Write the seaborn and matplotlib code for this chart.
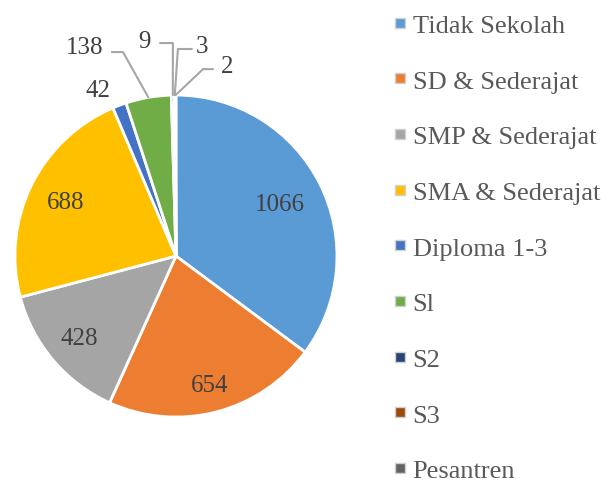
import matplotlib
matplotlib.use("Agg")
import matplotlib.pyplot as plt
from matplotlib import font_manager as fm
from matplotlib.lines import Line2D
import numpy as np
import seaborn as sns

categories = ["Tidak Sekolah", "SD & Sederajat", "SMP & Sederajat", "SMA & Sederajat",
              "Diploma 1-3", "Sl", "S2", "S3", "Pesantren"]
values = [1066, 654, 428, 688, 42, 138, 9, 3, 2]
colors = ["#5B9BD5", "#ED7D31", "#A5A5A5", "#FFC000", "#4472C4",
          "#70AD47", "#264478", "#9E480E", "#636363"]

sns.set_theme(style="white")
plt.rcParams["font.family"] = ["Liberation Serif", "DejaVu Serif"]

# pin the serif face by file so nothing swaps it
serif_path = fm.findfont(fm.FontProperties(family="Liberation Serif"))
num_font = fm.FontProperties(fname=serif_path, size=18)
leg_font = fm.FontProperties(fname=serif_path, size=19)

fig = plt.figure(figsize=(6.11, 4.85), dpi=100)
ax = fig.add_axes([0.0245, 0.138, 0.527, 0.664])

wedges, _ = ax.pie(values, colors=colors, startangle=90, counterclock=False,
                   wedgeprops=dict(edgecolor="white", linewidth=2))
ax.set_xlim(-1, 1)
ax.set_ylim(-1, 1)
ax.axis("off")

txt = "#404040"
# labels inside the big slices, distance from centre per slice
inner_r = [0.72, 0.83, 0.79, 0.76]
for w, v, r in zip(wedges[:4], values[:4], inner_r):
    ang = np.deg2rad((w.theta1 + w.theta2) / 2)
    ax.text(r * np.cos(ang), r * np.sin(ang), str(v), ha="center", va="center",
            fontproperties=num_font, color=txt)

# small slices: text position, leader start, leader elbow
outside = {
    4: ((-0.484, 1.031), None, None),
    5: ((-0.565, 1.298), (-0.398, 1.267), (-0.329, 1.267)),
    6: ((-0.193, 1.335), (-0.099, 1.323), (-0.019, 1.323)),
    7: ((0.161, 1.304), (0.099, 1.286), (0.012, 1.286)),
    8: ((0.317, 1.180), (0.230, 1.161), (0.168, 1.161)),
}
for i, (tpos, start, elbow) in outside.items():
    w = wedges[i]
    ax.text(tpos[0], tpos[1], str(values[i]), ha="center", va="center",
            fontproperties=num_font, color=txt, clip_on=False)
    if start is not None:
        ang = np.deg2rad((w.theta1 + w.theta2) / 2)
        ax.plot([start[0], elbow[0], np.cos(ang)], [start[1], elbow[1], np.sin(ang)],
                color="#a6a6a6", lw=1.5, clip_on=False)

handles = [Line2D([0], [0], marker="s", linestyle="none", markersize=7,
                  markerfacecolor=c, markeredgecolor="#d0d0d0", markeredgewidth=1)
           for c in colors]
fig.legend(handles, categories, loc="upper left", bbox_to_anchor=(0.643, 0.97),
           frameon=False, prop=leg_font, labelspacing=1.22,
           handletextpad=0.2, handlelength=0.55, labelcolor="#595959",
           borderaxespad=0, borderpad=0)

fig.savefig("out.png", dpi=100, facecolor="white")
